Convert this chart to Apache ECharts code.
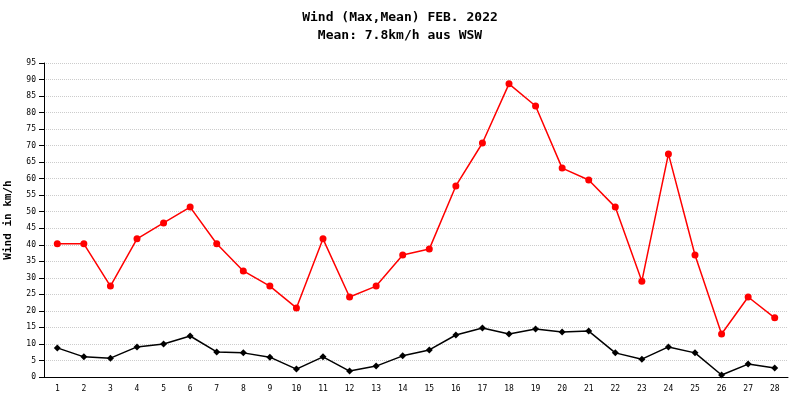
<!DOCTYPE html>
<html><head><meta charset="utf-8">
<script src="https://cdn.jsdelivr.net/npm/echarts@6/dist/echarts.min.js"></script>
<style>html,body{margin:0;background:#fff}#c{width:800px;height:400px}</style>
</head><body><div id="c"></div>
<script>
const days = Array.from({length:28},(_,i)=>String(i+1));
const maxWind = [40.3,40.3,27.5,41.8,46.6,51.4,40.3,32.1,27.5,20.9,41.8,24.2,27.5,36.9,38.7,57.8,70.8,88.7,82.0,63.2,59.6,51.4,29.0,67.5,36.9,13.0,24.2,17.9];
const meanWind = [8.8,6.1,5.7,9.1,10.0,12.4,7.6,7.3,6.0,2.4,6.1,1.8,3.3,6.4,8.2,12.7,14.8,13.0,14.5,13.6,13.9,7.3,5.4,9.1,7.3,0.6,3.9,2.7];
const F = '"DejaVu Sans Mono", monospace';
const chart = echarts.init(document.getElementById('c'));
chart.setOption({
  animation:false,
  title:{text:'Wind (Max,Mean) FEB. 2022\nMean: 7.8km/h aus WSW',left:'center',top:4,
    textStyle:{fontFamily:F,fontSize:13,fontWeight:'bold',color:'#000',lineHeight:18}},
  grid:{left:44,right:12,top:63,bottom:23,containLabel:false,outerBoundsMode:'none'},
  xAxis:{type:'category',data:days,boundaryGap:true,
    axisLine:{lineStyle:{color:'#000'}},axisTick:{alignWithLabel:true,color:'#000'},
    axisLabel:{fontFamily:F,fontSize:8,color:'#000',interval:0}},
  yAxis:{type:'value',min:0,max:95,interval:5,name:'Wind in km/h',nameLocation:'middle',nameGap:30,
    nameTextStyle:{fontFamily:F,fontSize:11,fontWeight:'bold',color:'#000'},
    axisLine:{show:true,lineStyle:{color:'#000'}},axisTick:{show:true},
    axisLabel:{fontFamily:F,fontSize:8,color:'#000'},
    splitLine:{lineStyle:{color:'#ccc',type:'dotted'}}},
  series:[
    {type:'line',data:maxWind,symbol:'circle',symbolSize:7,itemStyle:{color:'#f00'},lineStyle:{color:'#f00',width:1.5}},
    {type:'line',data:meanWind,symbol:'diamond',symbolSize:7,itemStyle:{color:'#000'},lineStyle:{color:'#000',width:1.5}}
  ]
});
</script></body></html>
